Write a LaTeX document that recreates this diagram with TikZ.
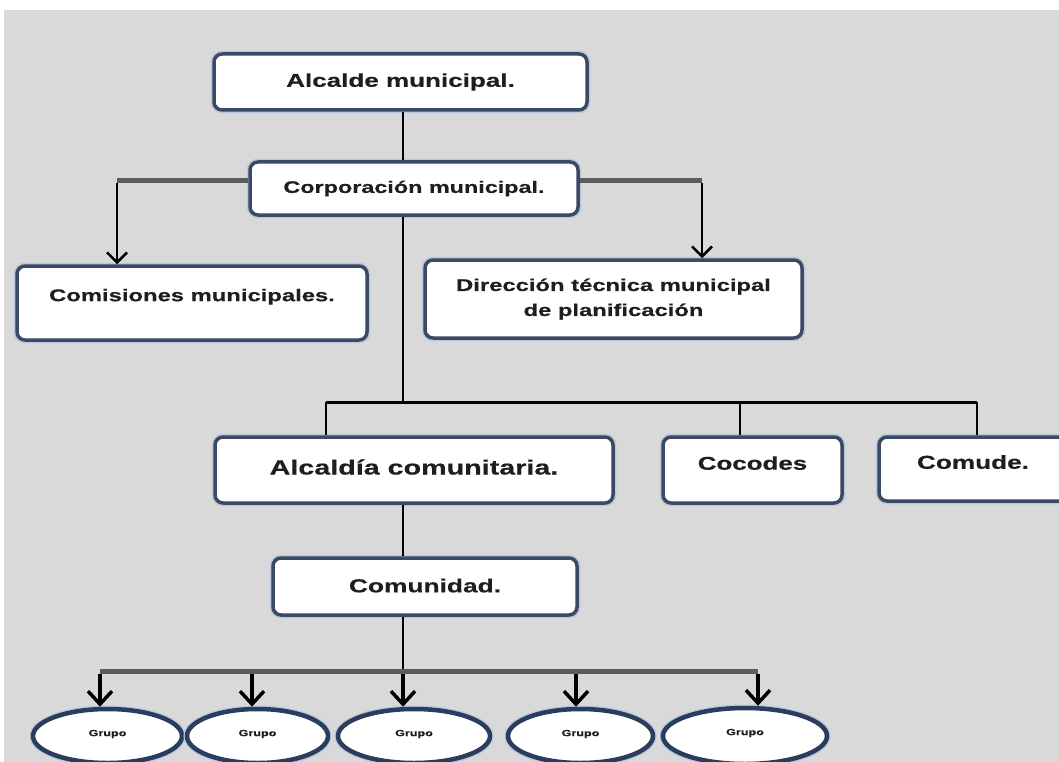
\documentclass[tikz,border=0pt]{standalone}
\usepackage{fontspec}
\newfontfamily\orgfont{Liberation Sans Bold}[FakeStretch=1.4, FakeBold=0.4]
\usetikzlibrary{arrows.meta,shapes.geometric}

\definecolor{canvas}{HTML}{D9D9D9}
\definecolor{edge}{HTML}{3A4A62}
\definecolor{halo}{HTML}{BAC8DB}
\definecolor{ringedge}{HTML}{2A3D5C}
\definecolor{busgray}{HTML}{5C5C5C}
\definecolor{ink}{HTML}{1E1E1E}

\tikzset{
  orgbox/.style={draw=edge, line width=3.5pt, fill=white, rounded corners=8pt,
    inner sep=0pt, text=ink, align=center, pt/.default=17, pt,
    preaction={draw=halo, line width=6.5pt}},
  pt/.style={font=\orgfont\fontsize{#1}{25}\selectfont},
  grupo/.style={ellipse, draw=ringedge, line width=4.5pt, fill=white,
    inner sep=0pt, text=ink, font=\orgfont\fontsize{9}{10}\selectfont,
    preaction={draw=halo, line width=7pt}},
  link/.style={line width=2.5pt, black},
  toplink/.style={link, -{Straight Barb[length=10pt,width=20pt]}},
  lowlink/.style={line width=3.5pt, black, -{Straight Barb[length=13pt,width=24pt]}},
  upperbus/.style={line width=5pt, busgray},
  midbus/.style={line width=3pt, black},
  lowerbus/.style={line width=5pt, busgray},
}

\begin{document}
\begin{tikzpicture}[x=1pt,y=-1pt]
  \useasboundingbox (0,0) rectangle (1059,762);
  \clip (0,0) rectangle (1059,762);
  \fill[white] (0,0) rectangle (1059,762);
  \fill[canvas] (4,10) rectangle (1059,762);

  % boxes
  \node[orgbox, pt=18.6, minimum width=373pt, minimum height=56pt] (alcalde) at (400.5,82) {Alcalde municipal.};
  \node[orgbox, pt=16.7, minimum width=328pt, minimum height=53pt] (corp) at (414,188.5) {Corporación municipal.};
  \node[orgbox, pt=17, minimum width=350pt, minimum height=74pt] (comis) at (192,303) {\raisebox{16pt}{Comisiones municipales.}};
  \node[orgbox, pt=17, minimum width=377pt, minimum height=78pt] (direc) at (613.5,299) {Dirección técnica municipal\\de planificación};
  \node[orgbox, pt=20.5, minimum width=398pt, minimum height=66pt] (alcaldia) at (414,470) {\raisebox{6pt}{Alcaldía comunitaria.}};
  \node[orgbox, pt=18.5, minimum width=179pt, minimum height=66pt] (cocodes) at (752.5,470) {\raisebox{14pt}{Cocodes}};
  \node[orgbox, pt=18.7, minimum width=188pt, minimum height=64pt] (comude) at (973,469) {\raisebox{14pt}{Comude.}};
  \node[orgbox, pt=18.8, minimum width=304pt, minimum height=57pt] (comunidad) at (425,586.5) {\raisebox{2pt}{Comunidad.}};

  % group ellipses
  \node[grupo, minimum width=149pt, minimum height=54pt] (g1) at (107.5,736) {\raisebox{6pt}{Grupo}};
  \node[grupo, minimum width=141pt, minimum height=54pt] (g2) at (257.5,736) {\raisebox{6pt}{Grupo}};
  \node[grupo, minimum width=152pt, minimum height=54pt] (g3) at (414,736) {\raisebox{6pt}{Grupo}};
  \node[grupo, minimum width=145pt, minimum height=54pt] (g4) at (580.5,736) {\raisebox{6pt}{Grupo}};
  \node[grupo, minimum width=164pt, minimum height=56pt] (g5) at (745,736) {\raisebox{8pt}{Grupo}};

  % spine and bus points
  \coordinate (sx) at (403,0);
  \coordinate (cl) at (117,181);
  \coordinate (cr) at (702,181);
  \coordinate (b1) at (326,402);
  \coordinate (b3) at (740,402);
  \coordinate (b2) at (977,402);
  \coordinate (d1) at (100,671);
  \coordinate (d2) at (252,671);
  \coordinate (d4) at (576,671);
  \coordinate (d5) at (758,671);

  % upper level
  \draw[link] (sx |- alcalde.south) -- (sx |- corp.north);
  \draw[upperbus] (corp.west |- cl) -- (cl);
  \draw[upperbus] (corp.east |- cr) -- (cr);
  \draw[toplink] ([yshift=-2.5pt]cl) -- (cl |- comis.north);
  \draw[toplink] ([yshift=-2.5pt]cr) -- (cr |- direc.north);

  % middle level
  \draw[link] (sx |- corp.south) -- (sx |- b1);
  \draw[midbus] (b1) -- (b2);
  \draw[link] (b1) -- (b1 |- alcaldia.north);
  \draw[link] (b3) -- (b3 |- cocodes.north);
  \draw[link] (b2) -- (b2 |- comude.north);
  \draw[link] (sx |- alcaldia.south) -- (sx |- comunidad.north);

  % lower level
  \draw[link] (sx |- comunidad.south) -- (sx |- d1);
  \draw[lowerbus] (d1) -- (d5);
  \draw[lowlink] ([yshift=-2.5pt]d1) -- (d1 |- g1.north);
  \draw[lowlink] ([yshift=-2.5pt]d2) -- (d2 |- g2.north);
  \draw[lowlink] ([yshift=-2.5pt]sx |- d1) -- (sx |- g3.north);
  \draw[lowlink] ([yshift=-2.5pt]d4) -- (d4 |- g4.north);
  \draw[lowlink] ([yshift=-2.5pt]d5) -- (d5 |- g5.north);
\end{tikzpicture}
\end{document}
